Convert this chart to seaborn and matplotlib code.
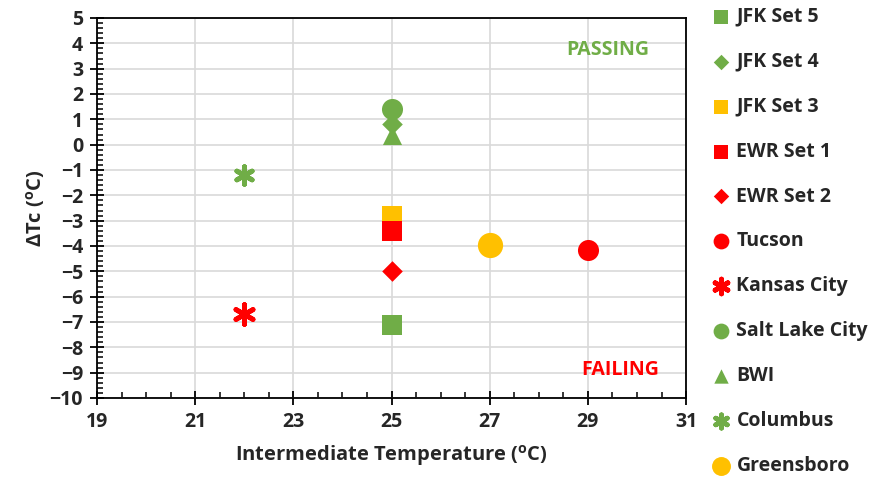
import matplotlib
matplotlib.use("Agg")
import matplotlib.pyplot as plt
import seaborn as sns
import pandas as pd
from matplotlib.ticker import MultipleLocator, FixedLocator

series = ["JFK Set 5", "JFK Set 4", "JFK Set 3", "EWR Set 1", "EWR Set 2", "Tucson",
          "Kansas City", "Salt Lake City", "BWI", "Columbus", "Greensboro"]
temps = [25, 25, 25, 25, 25, 29, 22, 25, 25, 22, 27]
dtc = [-7.1, 0.8, -2.8, -3.4, -5.0, -4.15, -6.7, 1.4, 0.4, -1.2, -3.95]
xticks = [19, 21, 23, 25, 27, 29, 31]

GREEN, RED, YEL = "#70AD47", "#FF0000", "#FFC000"
colors = [GREEN, GREEN, YEL, RED, RED, RED, RED, GREEN, GREEN, GREEN, YEL]
markers = ["s", "D", "s", "s", "D", "o", (6, 2, 0), "o", "^", (6, 2, 0), "o"]
sizes = [190, 110, 190, 190, 110, 230, 200, 230, 190, 160, 330]

df = pd.DataFrame({"series": series, "temp": temps, "dtc": dtc})

sns.set_theme(style="ticks")
plt.rcParams["font.family"] = ["Open Sans", "DejaVu Sans"]
plt.rcParams["font.weight"] = "bold"
plt.rcParams["xtick.bottom"] = True
plt.rcParams["ytick.left"] = True
plt.rcParams["xtick.minor.visible"] = True
plt.rcParams["ytick.minor.visible"] = True

fig = plt.figure(figsize=(8.76, 4.82), dpi=100)
ax = fig.add_axes([0.1107, 0.1743, 0.6725, 0.7884])

for i, s in enumerate(series):
    mk = markers[i]
    lw = 3.5 if isinstance(mk, tuple) else 0
    sns.scatterplot(data=df[df.series == s], x="temp", y="dtc", ax=ax,
                    marker=mk, s=sizes[i], color=colors[i],
                    edgecolor=colors[i], linewidth=lw, label=s, zorder=3)

ax.set_xlim(19, 31)
ax.set_ylim(-10, 5)
ax.xaxis.set_major_locator(FixedLocator(xticks))
ax.xaxis.set_minor_locator(MultipleLocator(0.5))
ax.yaxis.set_major_locator(MultipleLocator(1))
ax.yaxis.set_minor_locator(MultipleLocator(0.2))
ax.grid(True, which="major", axis="both", color="#D9D9D9", linewidth=1.2, zorder=0)
for sp in ax.spines.values():
    sp.set_visible(True)
    sp.set_color("black")
    sp.set_linewidth(1.3)
    sp.set_zorder(4)
ax.tick_params(axis="both", which="major", direction="inout", length=10, width=1.3,
               color="black", labelsize=14, pad=5, bottom=True, left=True,
               top=False, right=False, zorder=5)
ax.tick_params(axis="both", which="minor", direction="in", length=4, width=1.1,
               color="black", bottom=True, left=True, top=False, right=False, zorder=5)
for lab in ax.get_xticklabels() + ax.get_yticklabels():
    lab.set_fontweight("bold")

ax.set_xlabel("Intermediate Temperature ($\\mathregular{^{o}}$C)", fontsize=14.5,
              fontweight="bold", labelpad=8)
ax.set_ylabel("ΔTc ($\\mathregular{^{o}}$C)", fontsize=14.5, fontweight="bold", labelpad=2)

ax.text(29.4, 3.75, "PASSING", color=GREEN, fontsize=14, fontweight="bold",
        ha="center", va="center")
ax.text(29.65, -8.9, "FAILING", color=RED, fontsize=14, fontweight="bold",
        ha="center", va="center")

leg = ax.legend(loc="upper left", bbox_to_anchor=(1.008, 1.075), frameon=False,
                prop={"size": 14, "weight": "bold"}, labelspacing=1.28,
                handletextpad=0.15, handlelength=1.3, markerscale=0.75)

fig.savefig("out.png", dpi=100)
